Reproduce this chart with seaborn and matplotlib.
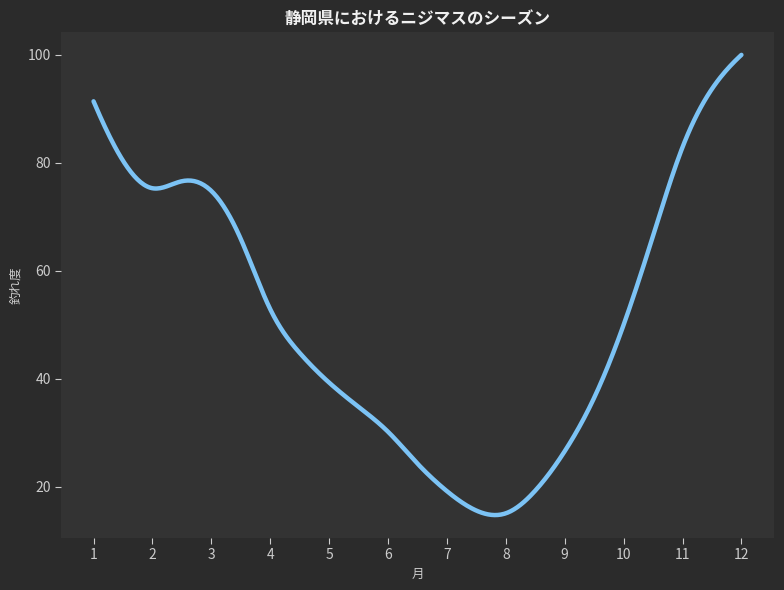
import numpy as np
import pandas as pd
import matplotlib
matplotlib.use("Agg")
import matplotlib.pyplot as plt
import seaborn as sns

# values every half month
month_pos = [1, 1.5, 2, 2.5, 3, 3.5, 4, 4.5, 5, 5.5, 6, 6.5,
             7, 7.5, 8, 8.5, 9, 9.5, 10, 10.5, 11, 11.5, 12]
score = [91.4, 80.4, 75.3, 76.6, 74.8, 65.9, 52.9, 44.8, 39.3, 34.8, 30.2, 24.3,
         19.2, 15.6, 15.1, 19.3, 26.6, 36.5, 50.0, 66.5, 82.9, 93.7, 100]
month_ticks = [1, 2, 3, 4, 5, 6, 7, 8, 9, 10, 11, 12]


def spline_curve(x, y, num=400):
    # not-a-knot cubic spline through the read points (smooth line like the original)
    x = np.asarray(x, float)
    y = np.asarray(y, float)
    n = len(x)
    h = np.diff(x)
    A = np.zeros((n, n))
    b = np.zeros(n)
    for i in range(1, n - 1):
        A[i, i - 1] = h[i - 1]
        A[i, i] = 2 * (h[i - 1] + h[i])
        A[i, i + 1] = h[i]
        b[i] = 6 * ((y[i + 1] - y[i]) / h[i] - (y[i] - y[i - 1]) / h[i - 1])
    A[0, 0], A[0, 1], A[0, 2] = h[1], -(h[0] + h[1]), h[0]
    A[-1, -3], A[-1, -2], A[-1, -1] = h[-1], -(h[-2] + h[-1]), h[-2]
    M = np.linalg.solve(A, b)
    xs = np.linspace(x[0], x[-1], num)
    idx = np.clip(np.searchsorted(x, xs) - 1, 0, n - 2)
    hi = h[idx]
    t1 = x[idx + 1] - xs
    t0 = xs - x[idx]
    ys = (M[idx] * t1 ** 3 + M[idx + 1] * t0 ** 3) / (6 * hi) \
        + (y[idx] / hi - M[idx] * hi / 6) * t1 \
        + (y[idx + 1] / hi - M[idx + 1] * hi / 6) * t0
    return xs, ys


xs, ys = spline_curve(month_pos, score)
df = pd.DataFrame({"月": xs, "釣れ度": ys})

sns.set_theme(style="dark", rc={
    "figure.facecolor": "#2b2b2b",
    "axes.facecolor": "#333333",
    "axes.edgecolor": "#333333",
    "text.color": "#eeeeee",
    "axes.labelcolor": "#cccccc",
    "xtick.color": "#cccccc",
    "ytick.color": "#cccccc",
    "xtick.bottom": True,
    "ytick.left": True,
})
plt.rcParams["font.family"] = ["Noto Sans CJK JP", "DejaVu Sans"]

fig, ax = plt.subplots(figsize=(7.84, 5.9), dpi=100)
fig.subplots_adjust(left=0.078, right=0.987, top=0.946, bottom=0.088)

sns.lineplot(data=df, x="月", y="釣れ度", color="#7cc3f5", linewidth=3.2, ax=ax)

for s in ax.spines.values():
    s.set_visible(False)
ax.set_xticks(month_ticks)
ax.tick_params(axis="both", labelsize=10, length=4, width=0.8, colors="#cccccc")
ax.set_title("静岡県におけるニジマスのシーズン", fontsize=12, fontweight="bold", color="#f0f0f0")
ax.set_xlabel("月", fontsize=9)
ax.set_ylabel("釣れ度", fontsize=9)

fig.savefig("out.png", dpi=100, facecolor=fig.get_facecolor())
